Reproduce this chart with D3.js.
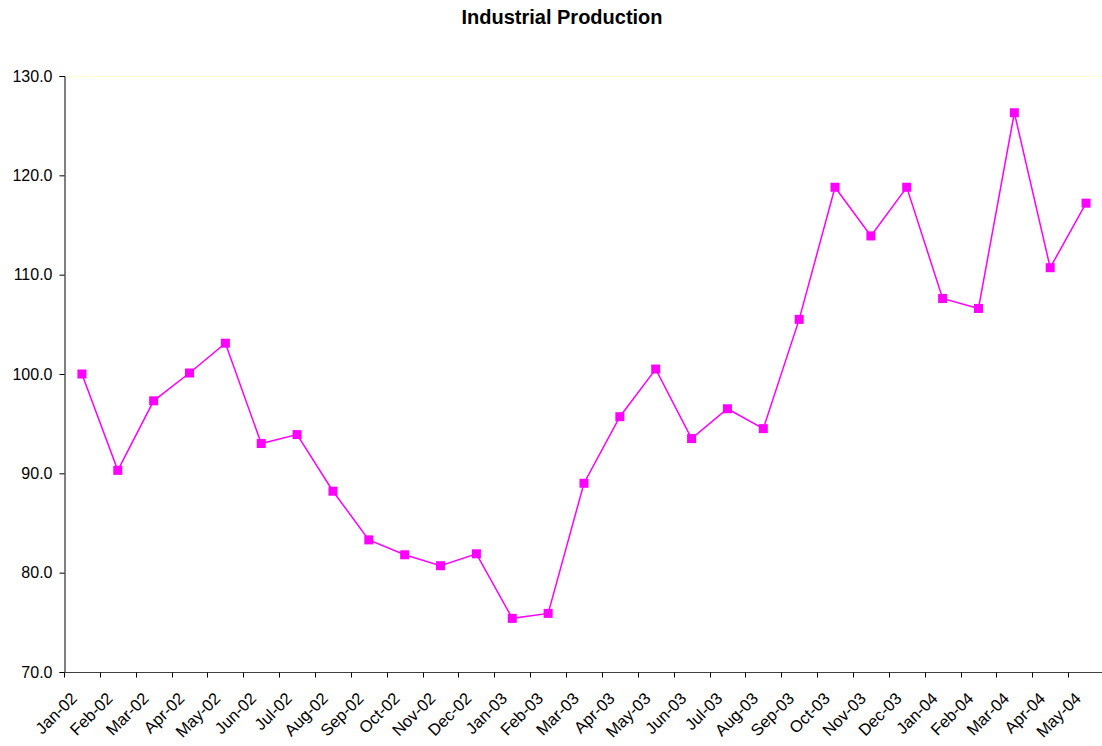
<!DOCTYPE html>
<html>
<head>
<meta charset="utf-8">
<script src="https://cdn.jsdelivr.net/npm/d3@7"></script>
<style>
  html, body { margin: 0; padding: 0; background: #fff; }
  svg { display: block; font-family: "Liberation Sans", Arial, sans-serif; }
</style>
</head>
<body>
<svg id="chart" width="1102" height="746"></svg>
<script>
// Monthly index values
const months = ["Jan-02","Feb-02","Mar-02","Apr-02","May-02","Jun-02","Jul-02","Aug-02","Sep-02","Oct-02","Nov-02","Dec-02",
                "Jan-03","Feb-03","Mar-03","Apr-03","May-03","Jun-03","Jul-03","Aug-03","Sep-03","Oct-03","Nov-03","Dec-03",
                "Jan-04","Feb-04","Mar-04","Apr-04","May-04"];
const production = [100.0, 90.3, 97.3, 100.1, 103.1, 93.0, 93.9, 88.2, 83.3, 81.8, 80.7, 81.9,
                    75.4, 75.9, 89.0, 95.7, 100.5, 93.5, 96.5, 94.5, 105.5, 118.8, 113.9, 118.8,
                    107.6, 106.6, 126.3, 110.7, 117.2];
const yTicks = [70, 80, 90, 100, 110, 120, 130];
const title = "Industrial Production";

const svg = d3.select("#chart");
const plot = { left: 64, top: 76, right: 1104, bottom: 672 };

const x = d3.scaleBand().domain(months).range([plot.left, plot.right]);
const y = d3.scaleLinear().domain([70, 130]).range([plot.bottom, plot.top]);

// Title
svg.append("text")
  .attr("x", 562).attr("y", 24)
  .attr("text-anchor", "middle")
  .attr("font-size", 20).attr("font-weight", "bold")
  .text(title);

// Plot area top border
svg.append("line")
  .attr("x1", plot.left).attr("x2", plot.right)
  .attr("y1", plot.top + 0.5).attr("y2", plot.top + 0.5)
  .attr("stroke", "#ffffc8").attr("stroke-width", 1);

// Y axis
const yAxis = svg.append("g")
  .attr("transform", `translate(${plot.left + 0.5},0)`)
  .call(d3.axisLeft(y).tickValues(yTicks).tickSize(5).tickPadding(7).tickFormat(d3.format(".1f")));
yAxis.select(".domain").attr("stroke", "#000");
yAxis.selectAll(".tick line").attr("stroke", "#000");
yAxis.selectAll(".tick text").attr("font-size", 16).attr("fill", "#000")
  .attr("font-family", "Liberation Sans, Arial, sans-serif");

// X axis: ticks sit on category boundaries
const xAxis = svg.append("g")
  .attr("transform", `translate(0,${plot.bottom + 0.5})`);
xAxis.append("line")
  .attr("x1", plot.left).attr("x2", plot.right)
  .attr("stroke", "#404040");
xAxis.selectAll("line.tk")
  .data(months)
  .join("line").attr("class", "tk")
  .attr("x1", d => Math.round(x(d)) + 0.5).attr("x2", d => Math.round(x(d)) + 0.5)
  .attr("y1", 0).attr("y2", 5)
  .attr("stroke", "#000");
xAxis.selectAll("text")
  .data(months)
  .join("text")
  .attr("transform", d => `translate(${x(d) + x.bandwidth() / 2 - 4},${27}) rotate(-45)`)
  .attr("text-anchor", "end")
  .attr("font-size", 16.5)
  .text(d => d);

// Series line and markers
const line = d3.line()
  .x((d, i) => x(months[i]) + x.bandwidth() / 2)
  .y(d => y(d));

svg.append("path")
  .datum(production)
  .attr("d", line)
  .attr("fill", "none")
  .attr("stroke", "#ff00ff")
  .attr("stroke-width", 1.5);

const ms = 9;
svg.selectAll("rect.marker")
  .data(production)
  .join("rect").attr("class", "marker")
  .attr("x", (d, i) => x(months[i]) + x.bandwidth() / 2 - ms / 2)
  .attr("y", d => y(d) - ms / 2)
  .attr("width", ms).attr("height", ms)
  .attr("fill", "#ff00ff");
</script>
</body>
</html>
